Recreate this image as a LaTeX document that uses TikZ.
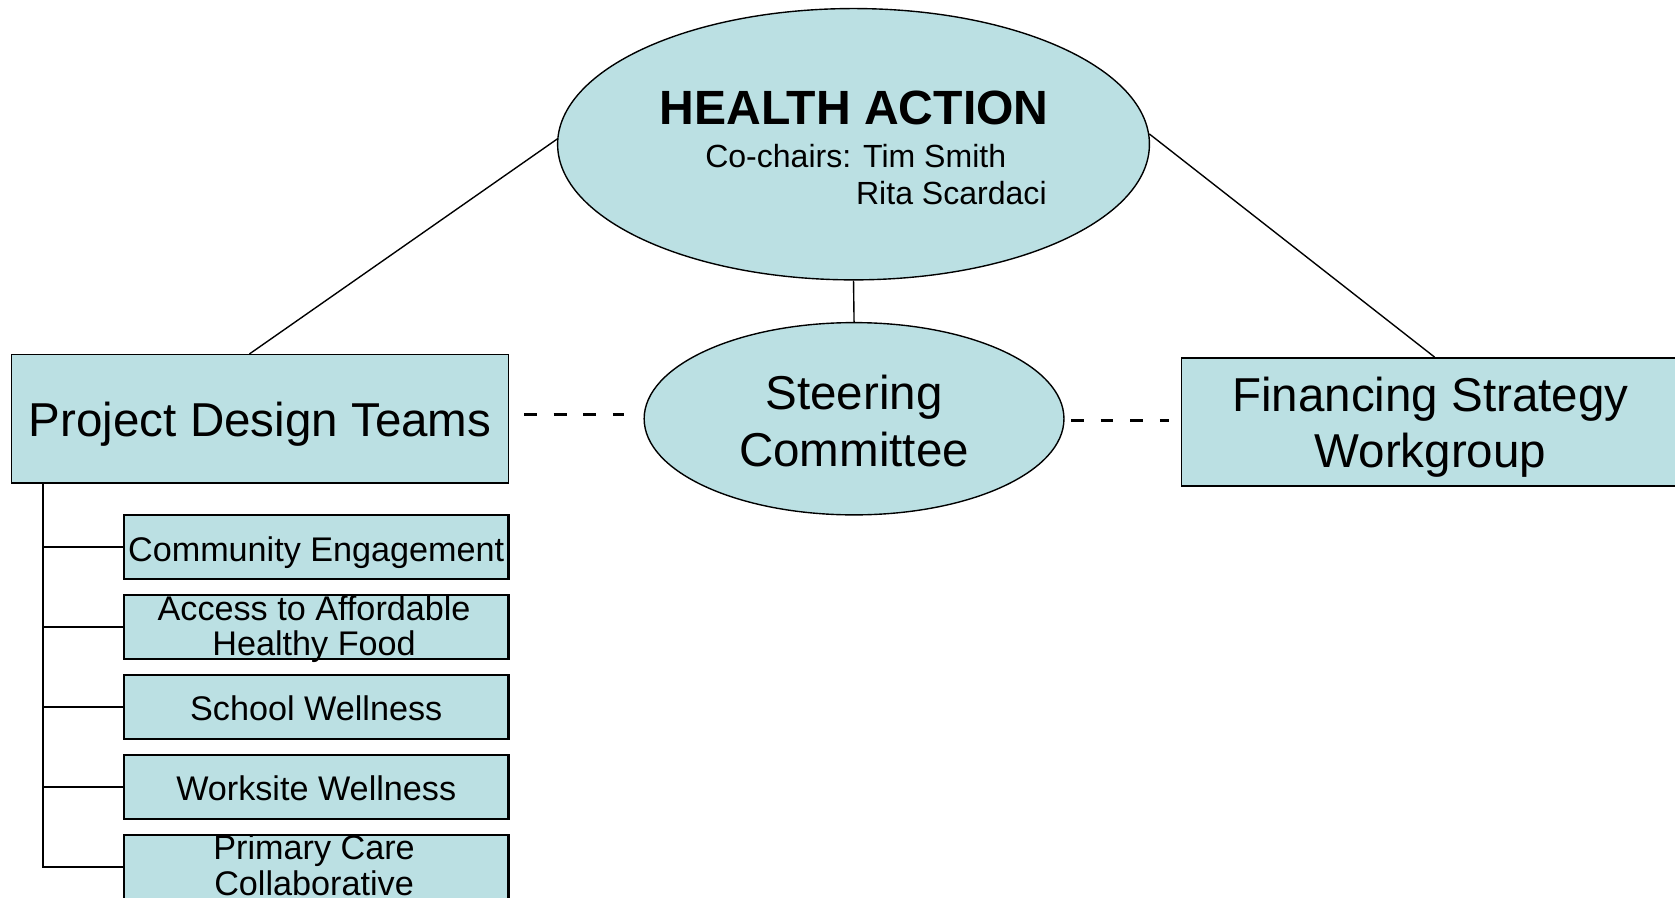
\documentclass[tikz,border=0pt]{standalone}
\usepackage{fontspec}
\setmainfont{Liberation Sans}
\usetikzlibrary{shapes.geometric,calc}
\definecolor{boxfill}{RGB}{187,224,227}
\tikzset{
  bigell/.style={ellipse,draw=black,fill=boxfill,line width=1.3pt,inner sep=0pt},
  bigbox/.style={rectangle,draw=black,fill=boxfill,line width=1.3pt,inner sep=0pt},
  bigtext/.style={inner sep=0pt,align=center,font=\fontsize{44.5}{53}\selectfont},
  subbox/.style={rectangle,draw=black,fill=boxfill,line width=2pt,inner sep=0pt,minimum width=360pt,minimum height=60pt},
  subtext/.style={inner sep=0pt,align=center,font=\fontsize{32}{33}\selectfont},
  conn/.style={line width=1.3pt},
  dashconn/.style={line width=3pt,dash pattern=on 12pt off 15.7pt},
  trunkline/.style={line width=1.8pt}
}
\begin{document}
\begin{tikzpicture}[x=1pt,y=-1pt]
\useasboundingbox (0,0) rectangle (1568,840);
% main nodes
\node[bigell,minimum width=554pt,minimum height=254pt] (ha) at (799,135) {};
\node[anchor=base,font=\fontsize{45}{50}\selectfont\bfseries] (hatitle) at (799.5,117) {HEALTH ACTION};
\node[anchor=base west,inner sep=0pt,font=\fontsize{30}{34}\selectfont] (cochair) at (660,157) {Co-chairs: Tim Smith};
\node[anchor=base east,inner sep=0pt,font=\fontsize{30}{34}\selectfont] (rita) at (980,191) {Rita Scardaci};
\node[bigell,minimum width=393pt,minimum height=180pt] (sc) at (799.5,392) {};
\node[bigtext] (sct) at ([yshift=-2pt]sc.center) {Steering\\Committee};
\node[bigbox,minimum width=465pt,minimum height=120pt] (pdt) at (243.5,392) {};
\node[bigtext] (pdtt) at ([yshift=-5pt]pdt.center) {Project Design Teams};
\node[bigbox,minimum width=466pt,minimum height=120pt] (fin) at (1339,395) {};
\node[bigtext] (fint) at ([yshift=-5pt]fin.center) {Financing Strategy\\Workgroup};
% sub boxes
\node[subbox] (s1) at (296,512) {};
\node[subtext] (s1t) at ([yshift=-5pt]s1.center) {Community Engagement};
\node[subbox] (s2) at (296,587) {};
\node[subtext] (s2t) at ([xshift=-2pt,yshift=-2pt]s2.center) {Access to Affordable\\Healthy Food};
\node[subbox] (s3) at (296,662) {};
\node[subtext] (s3t) at ([yshift=-1pt]s3.center) {School Wellness};
\node[subbox] (s4) at (296,737) {};
\node[subtext] (s4t) at ([yshift=-1pt]s4.center) {Worksite Wellness};
\node[subbox] (s5) at (296,812) {};
\node[subtext] (s5t) at ([xshift=-2pt,yshift=2pt]s5.center) {Primary Care\\Collaborative};
% connectors
\draw[conn] (ha.179) -- ([xshift=-10pt]pdt.north);
\draw[conn] (ha.2.5) -- ([xshift=4pt]fin.north);
\draw[conn] (ha.south) -- (sc.north);
\draw[dashconn] ([xshift=14pt,yshift=4pt]pdt.east) -- ([xshift=-18pt,yshift=4pt]sc.west);
\draw[dashconn] ([xshift=6pt,yshift=-2pt]sc.east) -- ([xshift=-11pt,yshift=1pt]fin.west);
\coordinate (trunk) at ([xshift=30pt]pdt.south west);
\draw[trunkline] (trunk) |- (s5.west);
\foreach \s in {s1,s2,s3,s4} {
  \draw[trunkline] (\s.west -| trunk) -- (\s.west);
}
\end{tikzpicture}
\end{document}
